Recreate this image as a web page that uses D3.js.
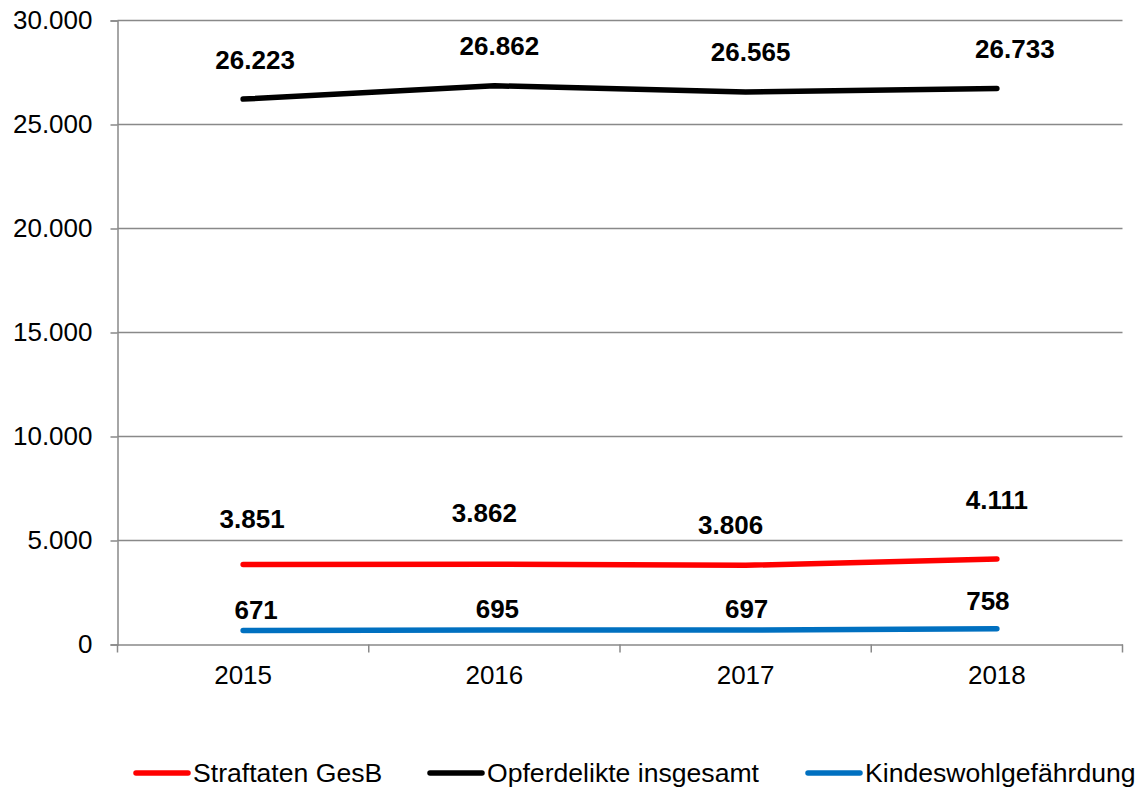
<!DOCTYPE html>
<html><head><meta charset="utf-8">
<script src="https://cdn.jsdelivr.net/npm/d3@7"></script>
<style>html,body{margin:0;padding:0;background:#fff;}svg{display:block;font-family:"Liberation Sans",Arial,sans-serif;}</style>
</head><body><svg id="c" width="1138" height="788"></svg>
<script>
const years = ["2015","2016","2017","2018"];
const straftaten = [3851, 3862, 3806, 4111];
const opferdelikte = [26223, 26862, 26565, 26733];
const kindeswohl = [671, 695, 697, 758];
const yTicks = [0, 5000, 10000, 15000, 20000, 25000, 30000];
const seriesNames = ["Straftaten GesB", "Opferdelikte insgesamt", "Kindeswohlgefährdung"];

// layout (not data)
const colors = ["#ff0000", "#000000", "#0070c0"];
const labelOffset = [
  [[9,-36],[-10,-42],[-15,-31],[0,-50]],
  [[12,-30],[5,-31],[5,-31],[18,-30]],
  [[13,-12],[3,-12],[1,-12],[-9,-19]]
];

const svg = d3.select("#c");
const L = 117.5, R = 1122.5, T = 20.5, B = 644.5;
const x = d3.scaleBand().domain(years).range([L, R]);
const y = d3.scaleLinear().domain([0, 30000]).range([B, T]);
const fmt = v => d3.format(",")(v).replace(/,/g, ".");
const grey = "#898989";

// gridlines
svg.append("g").selectAll("line").data(yTicks.filter(t => t > 0)).join("line")
  .attr("x1", L).attr("x2", R).attr("y1", d => y(d)).attr("y2", d => y(d))
  .attr("stroke", grey).attr("stroke-width", 1.5);

// y axis
const ya = svg.append("g").attr("transform", `translate(${L},0)`)
  .call(d3.axisLeft(y).tickValues(yTicks).tickFormat(fmt).tickSize(7).tickPadding(18));
ya.select(".domain").attr("stroke", grey).attr("stroke-width", 1.5);
ya.selectAll(".tick line").attr("stroke", grey).attr("stroke-width", 1.5);
ya.selectAll(".tick text").attr("font-size", 26).attr("fill", "#000")
  .attr("font-family", "Liberation Sans, Arial, sans-serif");

// x axis
const xa = svg.append("g").attr("transform", `translate(0,${B})`)
  .call(d3.axisBottom(x).tickSize(0).tickPadding(21));
xa.select(".domain").attr("stroke", grey).attr("stroke-width", 1.5);
xa.selectAll(".tick text").attr("font-size", 26).attr("fill", "#000")
  .attr("font-family", "Liberation Sans, Arial, sans-serif");
// band boundary ticks
const bounds = years.map(d => x(d)).concat([x(years[years.length-1]) + x.bandwidth()]);
svg.append("g").selectAll("line").data(bounds).join("line")
  .attr("x1", d => d).attr("x2", d => d).attr("y1", B).attr("y2", B + 8)
  .attr("stroke", grey).attr("stroke-width", 1.5);

// lines
const series = [straftaten, opferdelikte, kindeswohl];
const cx = d => x(d) + x.bandwidth() / 2;
const line = d3.line().x((v, i) => cx(years[i])).y(v => y(v));
series.forEach((s, k) => {
  svg.append("path").datum(s).attr("d", line).attr("fill", "none")
    .attr("stroke", colors[k]).attr("stroke-width", 5.5)
    .attr("stroke-linecap", "round").attr("stroke-linejoin", "round");
});
series.forEach((s, k) => {
  svg.append("g").selectAll("text").data(s).join("text")
    .attr("x", (v, i) => cx(years[i]) + labelOffset[k][i][0])
    .attr("y", (v, i) => y(v) + labelOffset[k][i][1])
    .attr("text-anchor", "middle").attr("font-size", 26).attr("font-weight", "bold")
    .attr("fill", "#000").text(fmt);
});

// legend
const legX = [136, 430, 808];
const legY = 773;
seriesNames.forEach((n, k) => {
  const g = svg.append("g");
  g.append("line").attr("x1", legX[k]).attr("x2", legX[k] + 52).attr("y1", legY).attr("y2", legY)
    .attr("stroke", colors[k]).attr("stroke-width", 5.5).attr("stroke-linecap", "round");
  g.append("text").attr("x", legX[k] + 57).attr("y", legY + 9).attr("font-size", 26.6)
    .attr("fill", "#000").text(n);
});
</script></body></html>
